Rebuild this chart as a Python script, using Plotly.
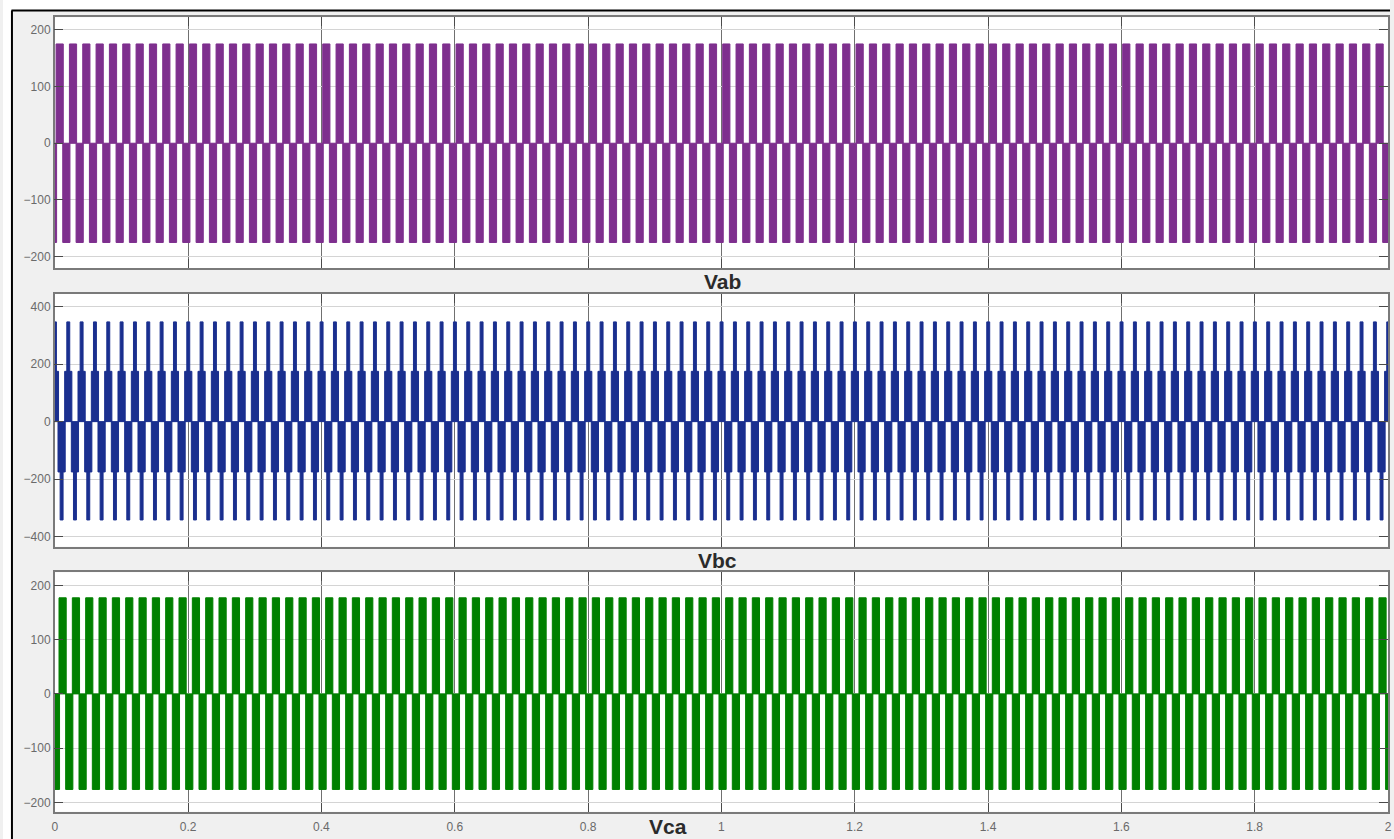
import plotly.graph_objects as go

# ---------------- data ----------------
T_END = 2.0            # seconds shown
PERIOD = 0.02          # 50 Hz fundamental (10 cycles per 0.2 s)
N_CYCLES = 100

# one period of each line voltage, as pulse segments:
# phase start, phase end (fractions of a period), lower level, upper level (V)
VAB_PH0 = [0.10, 0.60]
VAB_PH1 = [0.64, 1.14]
VAB_LO = [0, -175]
VAB_HI = [175, 0]

VBC_PH0 = [0.745, 0.905, 0.245, 0.405]
VBC_PH1 = [1.285, 1.125, 0.785, 0.625]
VBC_LO = [0, 175, -175, -342]
VBC_HI = [175, 347, 0, -175]

VCA_PH0 = [0.32, 0.82]
VCA_PH1 = [0.86, 1.36]
VCA_LO = [0, -176]
VCA_HI = [177, 0]

X_TICKS = [0, 0.2, 0.4, 0.6, 0.8, 1.0, 1.2, 1.4, 1.6, 1.8, 2.0]
Y_TICKS_AB = [-200, -100, 0, 100, 200]
Y_TICKS_BC = [-400, -200, 0, 200, 400]
Y_TICKS_CA = [-200, -100, 0, 100, 200]
TITLES = ["Vab", "Vbc", "Vca"]

# ---------------- build pulse bars ----------------
def pulses(ph0, ph1, lo, hi):
    xs, ys, bs, ws = [], [], [], []
    for k in range(-1, N_CYCLES + 1):
        for a, b, l, h in zip(ph0, ph1, lo, hi):
            t0 = (k + a) * PERIOD
            t1 = (k + b) * PERIOD
            xs.append((t0 + t1) / 2)
            ws.append(t1 - t0)
            bs.append(l)
            ys.append(h - l)
    return xs, ys, bs, ws

W, H = 1394, 839
PURPLE = "#7e2f8e"
BLUE = "#1a2f8f"
GREEN = "#008000"

fig = go.Figure()
series = [
    (pulses(VAB_PH0, VAB_PH1, VAB_LO, VAB_HI), PURPLE, "x", "y"),
    (pulses(VBC_PH0, VBC_PH1, VBC_LO, VBC_HI), BLUE, "x2", "y2"),
    (pulses(VCA_PH0, VCA_PH1, VCA_LO, VCA_HI), GREEN, "x3", "y3"),
]
for (xs, ys, bs, ws), col, xa, ya in series:
    fig.add_trace(go.Bar(x=xs, y=ys, base=bs, width=ws,
                         marker=dict(color=col, line=dict(color=col, width=1)),
                         xaxis=xa, yaxis=ya, showlegend=False, hoverinfo="skip"))

def py(px):
    return 1 - px / H

xdom = [52 / W, 1392 / W]
ydoms = [[py(268), py(17.3)], [py(546.7), py(294)], [py(811.7), py(572.3)]]
yranges = [[-220, 222], [-435, 444], [-217, 224]]
yticks = [Y_TICKS_AB, Y_TICKS_BC, Y_TICKS_CA]

axfont = dict(family="Liberation Sans, Arial, sans-serif", size=12, color="#6a6a6a")
layout = dict(
    width=W, height=H,
    margin=dict(l=0, r=0, t=0, b=0),
    paper_bgcolor="#f0f0f0",
    plot_bgcolor="#ffffff",
    barmode="overlay",
    showlegend=False,
)
for i in range(3):
    sx = "" if i == 0 else str(i + 1)
    layout["xaxis" + sx] = dict(
        domain=xdom, anchor="y" + sx, range=[0, T_END],
        tickvals=X_TICKS, showticklabels=(i == 2), tickfont=axfont,
        ticks="inside", ticklen=9, tickcolor="#4a4a4a",
        showgrid=True, gridcolor="#707070", gridwidth=1,
        showline=True, linecolor="#7a7a7a", linewidth=1.5, mirror="ticks",
        zeroline=False, fixedrange=True, ticklabeloverflow="allow",
    )
    layout["yaxis" + sx] = dict(
        domain=ydoms[i], anchor="x" + sx, range=yranges[i],
        tickvals=yticks[i], tickfont=axfont,
        ticks="inside", ticklen=9, tickcolor="#4a4a4a",
        showgrid=True, gridcolor="#d4d4d4", gridwidth=1,
        showline=True, linecolor="#7a7a7a", linewidth=1.5, mirror="ticks",
        zeroline=False, fixedrange=True,
    )
fig.update_layout(**layout)
fig.update_xaxes(ticklabelstandoff=3, selector=dict(anchor="y3"))

tfont = dict(family="Liberation Sans, Arial, sans-serif", size=21, color="#2b2b2b")
title_pos = [(723, 282), (718, 560), (668, 826)]
for txt, (tx, ty) in zip(TITLES, title_pos):
    fig.add_annotation(text="<b>%s</b>" % txt, x=tx / W, y=py(ty), xref="paper", yref="paper",
                       xanchor="center", yanchor="middle", showarrow=False, font=tfont)

# white outer strip and black frame (picture border)
fig.add_shape(type="rect", xref="paper", yref="paper", x0=0, x1=1, y0=py(10), y1=1,
              fillcolor="white", line=dict(width=0), layer="below")
fig.add_shape(type="rect", xref="paper", yref="paper", x0=0, x1=8.5 / W, y0=0, y1=1,
              fillcolor="white", line=dict(width=0), layer="below")
fig.add_shape(type="line", xref="paper", yref="paper", x0=8.5 / W, x1=1, y0=py(10.5), y1=py(10.5),
              line=dict(color="black", width=2))
fig.add_shape(type="line", xref="paper", yref="paper", x0=9 / W, x1=9 / W, y0=0, y1=py(10.5),
              line=dict(color="black", width=2))

fig.write_html("out.html", config={"displayModeBar": False},
               post_script="document.body.style.margin='0';document.body.style.overflow='hidden';")
